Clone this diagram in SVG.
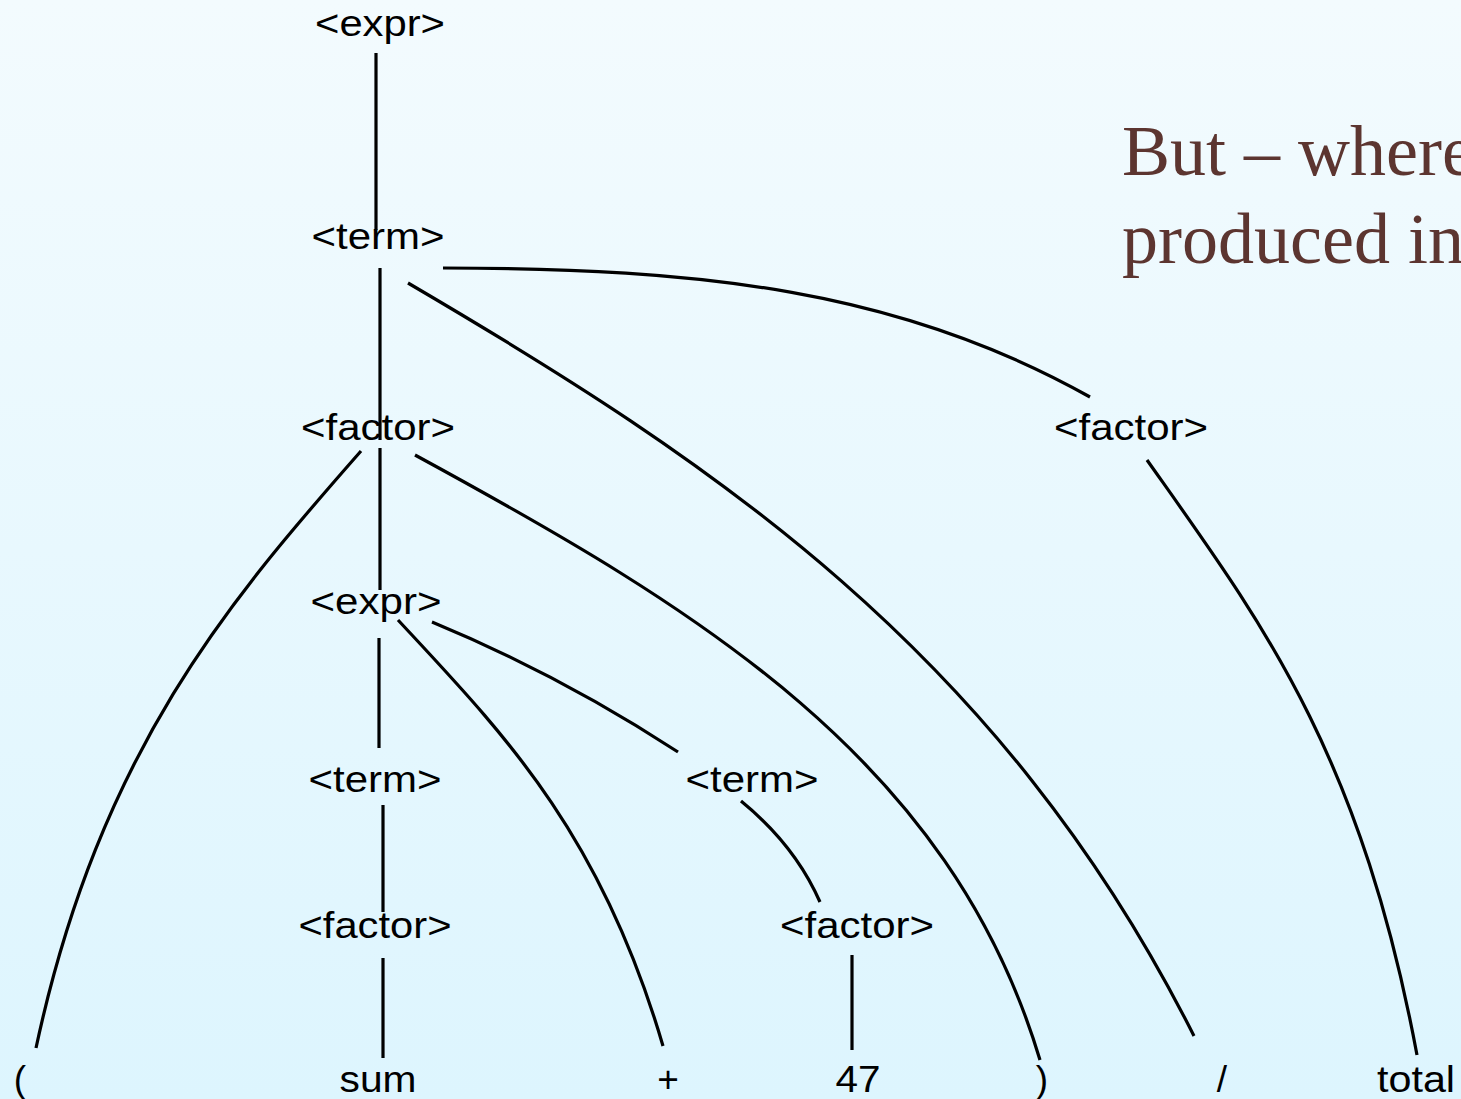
<svg xmlns="http://www.w3.org/2000/svg" width="1461" height="1099" viewBox="0 0 1461 1099">
<defs>
<linearGradient id="bg" x1="0" y1="0" x2="0" y2="1">
<stop offset="0" stop-color="#f3fbfe"/>
<stop offset="1" stop-color="#ddf5fe"/>
</linearGradient>
<style>
.n{font-family:"Liberation Sans",Arial,sans-serif;font-size:37px;fill:#000;text-anchor:middle}
.c{fill:none;stroke:#000;stroke-width:3.2}
.t{font-family:"Liberation Serif","Times New Roman",serif;font-size:72px;fill:#5c3530}
</style>
</defs>
<rect width="1461" height="1099" fill="url(#bg)"/>
<g id="title">
<text class="t" x="1122" y="175">But – where</text>
<text class="t" x="1122" y="263">produced in</text>
</g>
<g id="connectors">
<line class="c" x1="376" y1="53" x2="376" y2="230"/>
<line class="c" x1="380" y1="268" x2="380" y2="440"/>
<path class="c" d="M443,268 C700,268 900,290 1090,397"/>
<path class="c" d="M408,283 C710,460 1000,650 1194,1036"/>
<path class="c" d="M361,451 C230,600 100,750 36,1048"/>
<line class="c" x1="380" y1="448" x2="380" y2="590"/>
<path class="c" d="M415,455 C700,610 950,760 1040,1060"/>
<line class="c" x1="379" y1="638" x2="379" y2="748"/>
<path class="c" d="M398,620 C500,730 600,830 663,1046"/>
<path class="c" d="M432,622 Q560,675 678,752"/>
<line class="c" x1="383" y1="805" x2="383" y2="912"/>
<line class="c" x1="383" y1="958" x2="383" y2="1058"/>
<path class="c" d="M741,801 Q795,845 820,902"/>
<line class="c" x1="852" y1="955" x2="852" y2="1050"/>
<path class="c" d="M1147,460 C1260,620 1360,750 1417,1055"/>
</g>
<g id="expr1"><text class="n" x="380" y="36" textLength="130" lengthAdjust="spacingAndGlyphs">&lt;expr&gt;</text></g>
<g id="term1"><text class="n" x="378" y="249" textLength="133" lengthAdjust="spacingAndGlyphs">&lt;term&gt;</text></g>
<g id="factor1"><text class="n" x="378" y="440" textLength="154" lengthAdjust="spacingAndGlyphs">&lt;factor&gt;</text></g>
<g id="factor2"><text class="n" x="1131" y="440" textLength="154" lengthAdjust="spacingAndGlyphs">&lt;factor&gt;</text></g>
<g id="expr2"><text class="n" x="376" y="614" textLength="131" lengthAdjust="spacingAndGlyphs">&lt;expr&gt;</text></g>
<g id="term2"><text class="n" x="375" y="792" textLength="133" lengthAdjust="spacingAndGlyphs">&lt;term&gt;</text></g>
<g id="term3"><text class="n" x="752" y="792" textLength="133" lengthAdjust="spacingAndGlyphs">&lt;term&gt;</text></g>
<g id="factor3"><text class="n" x="375" y="938" textLength="153" lengthAdjust="spacingAndGlyphs">&lt;factor&gt;</text></g>
<g id="factor4"><text class="n" x="857" y="938" textLength="154" lengthAdjust="spacingAndGlyphs">&lt;factor&gt;</text></g>
<g id="lparen"><text class="n" x="20" y="1092">(</text></g>
<g id="sum"><text class="n" x="378" y="1092" textLength="77" lengthAdjust="spacingAndGlyphs">sum</text></g>
<g id="plus"><text class="n" x="668" y="1092">+</text></g>
<g id="n47"><text class="n" x="858" y="1092" textLength="45" lengthAdjust="spacingAndGlyphs">47</text></g>
<g id="rparen"><text class="n" x="1042" y="1092">)</text></g>
<g id="slash"><text class="n" x="1222" y="1092">/</text></g>
<g id="total"><text class="n" x="1416" y="1092" textLength="78" lengthAdjust="spacingAndGlyphs">total</text></g>
</svg>
